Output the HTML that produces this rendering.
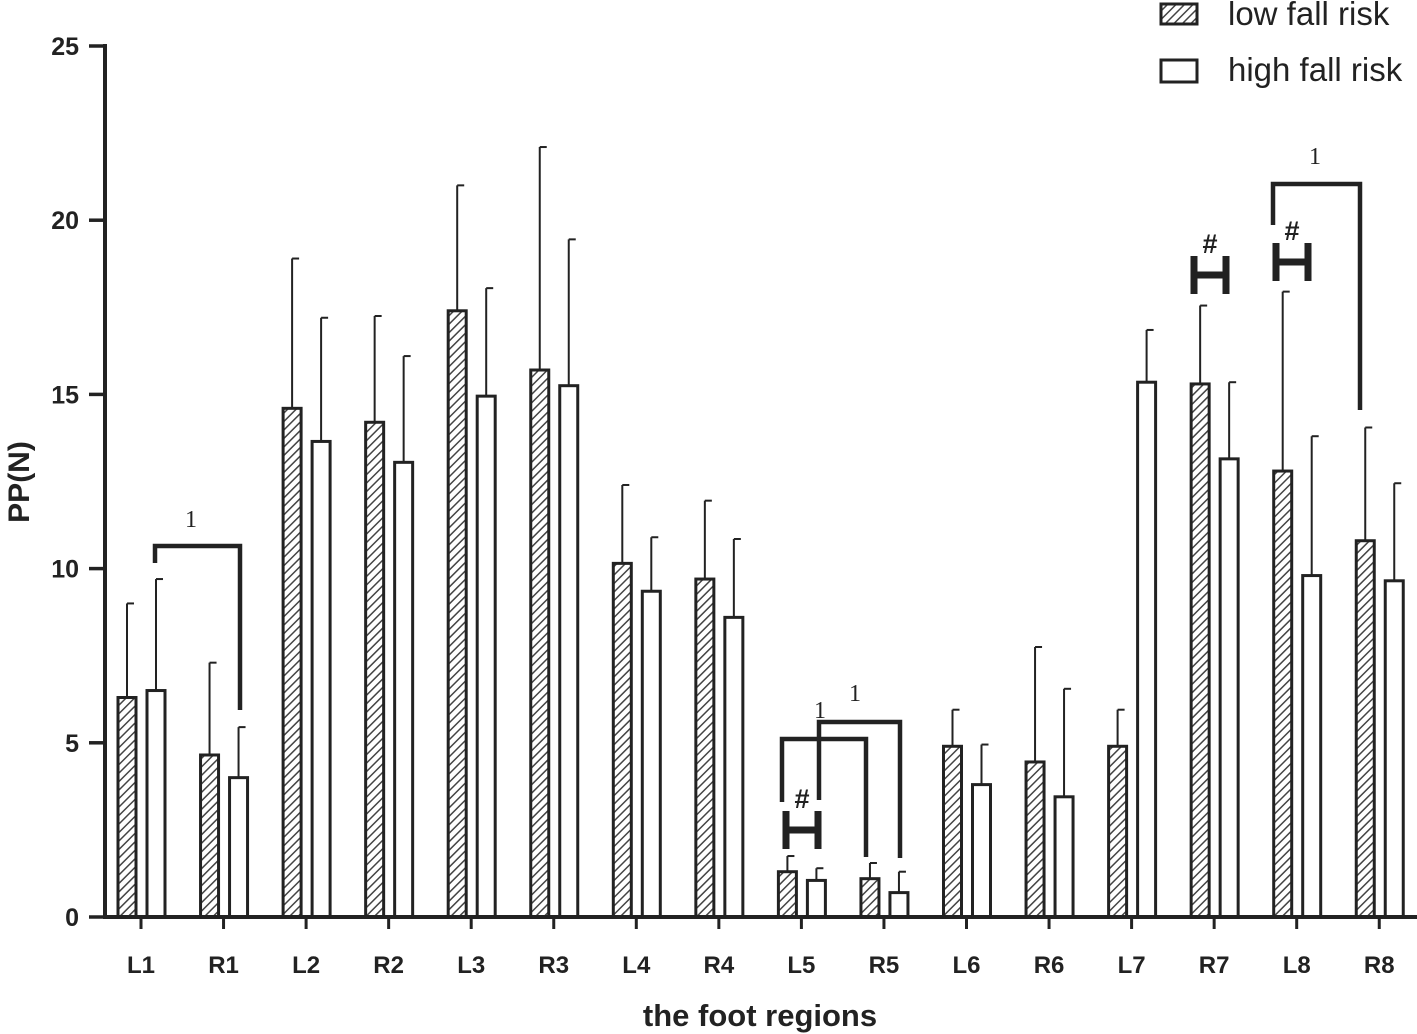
<!DOCTYPE html>
<html><head><meta charset="utf-8"><style>
html,body{margin:0;padding:0;background:#fff;}
svg{display:block;font-family:"Liberation Sans",Arial,sans-serif;}
</style></head><body>
<svg id="chart" width="1417" height="1034" viewBox="0 0 1417 1034" xmlns="http://www.w3.org/2000/svg">
<defs>
<pattern id="hatch" patternUnits="userSpaceOnUse" width="6" height="6" patternTransform="rotate(45)">
<rect width="6" height="6" fill="#fff"/><line x1="0" y1="0" x2="0" y2="6" stroke="#444" stroke-width="3"/>
</pattern>
</defs>
<g id="legend">
<g>
<rect x="1161" y="4" width="36" height="20" fill="url(#hatch)" stroke="#222" stroke-width="3"/>
<text x="1228" y="25" font-size="33" fill="#222">low fall risk</text></g>
<g>
<rect x="1161" y="60" width="36" height="22" fill="#fff" stroke="#222" stroke-width="3"/>
<text x="1228" y="81" font-size="33" fill="#222">high fall risk</text></g>
</g>
<g id="marks"></g>
<g id="axes"></g>
<text x="29" y="482" font-size="30" font-weight="bold" fill="#222" text-anchor="middle" transform="rotate(-90 29 482)">PP(N)</text>
<text x="760" y="1026" font-size="31" font-weight="bold" fill="#222" text-anchor="middle">the foot regions</text>
</svg>
<script>
const categories=["L1","R1","L2","R2","L3","R3","L4","R4","L5","R5","L6","R6","L7","R7","L8","R8"];
const lowValues=[6.3,4.65,14.6,14.2,17.4,15.7,10.15,9.7,1.3,1.1,4.9,4.45,4.9,15.3,12.8,10.8];
const lowErr=[9.0,7.3,18.9,17.25,21.0,22.1,12.4,11.95,1.75,1.55,5.95,7.75,5.95,17.55,17.95,14.05];
const highValues=[6.5,4.0,13.65,13.05,14.95,15.25,9.35,8.6,1.05,0.7,3.8,3.45,15.35,13.15,9.8,9.65];
const highErr=[9.7,5.45,17.2,16.1,18.05,19.45,10.9,10.85,1.4,1.3,4.95,6.55,16.85,15.35,13.8,12.45];
const yTicks=[0,5,10,15,20,25];
const NS="http://www.w3.org/2000/svg";
const y0=917,yTop=46,yMax=25;
function yScale(v){return y0-(v/yMax)*(y0-yTop);}
function xScale(i){return 141+i*82.55;}
function mk(tag,attrs,parent){const e=document.createElementNS(NS,tag);for(const k in attrs)e.setAttribute(k,attrs[k]);parent.appendChild(e);return e;}
const marks=document.getElementById('marks'),axes=document.getElementById('axes');
const bw=18;
categories.forEach((c,i)=>{
  const cx=xScale(i);
  [[lowValues[i],lowErr[i],cx-14,'url(#hatch)','low'],[highValues[i],highErr[i],cx+15,'#fff','high']].forEach(([v,e,bx,fill,nm])=>{
    const el=mk('line',{x1:bx,x2:bx,y1:yScale(v),y2:yScale(e),stroke:'#222','stroke-width':2},marks);
    
    
    const cap=mk('line',{x1:bx,x2:bx+7,y1:yScale(e),y2:yScale(e),stroke:'#222','stroke-width':2},marks);
    
    
    const r=mk('rect',{x:bx-bw/2,y:yScale(v),width:bw,height:y0-yScale(v),fill:fill,stroke:'#222','stroke-width':3},marks);
    
    
  });
  const t=mk('line',{x1:cx,x2:cx,y1:y0,y2:y0+12,stroke:'#222','stroke-width':3},axes);
  
  
  const lb=mk('text',{x:cx,y:973,'font-size':24,'font-weight':'bold','text-anchor':'middle',fill:'#222'},axes);
  lb.textContent=c;
  
  
});
const ya=mk('line',{x1:105,x2:105,y1:yTop-2,y2:y0+2,stroke:'#222','stroke-width':4},axes);


const xa=mk('line',{x1:103,x2:1417,y1:y0,y2:y0,stroke:'#222','stroke-width':4},axes);


yTicks.forEach(v=>{
  const t=mk('line',{x1:89,x2:105,y1:yScale(v),y2:yScale(v),stroke:'#222','stroke-width':3.5},axes);
  
  
  const l=mk('text',{x:79,y:yScale(v)+9,'font-size':25,'font-weight':'bold','text-anchor':'end',fill:'#222'},axes);
  l.textContent=v;
  
  
});
function bracket(x1,x2,top,b1,b2,lx,ly){
  const p=mk('path',{d:`M${x1},${b1} V${top} H${x2} V${b2}`,fill:'none',stroke:'#222','stroke-width':4.5},marks);
  
  
  const t=mk('text',{x:lx,y:ly,'font-size':24,'font-family':'Liberation Serif, serif','text-anchor':'middle',fill:'#222'},marks);
  t.textContent='1';
  
  
}
bracket(155,240,546,563,710,191,527);
bracket(782,866,739,802,857,820,718);
bracket(819,900,722,800,858,855,701);
bracket(1273,1360,184,225,410,1315,164);
function hmark(x,y){
  const p=mk('path',{d:`M${x-16},${y-19} V${y+19} M${x+16},${y-19} V${y+19} M${x-16},${y} H${x+16}`,fill:'none',stroke:'#222','stroke-width':7},marks);
  
  
  const t=mk('text',{x:x,y:y-22,'font-size':27,'font-weight':'bold','text-anchor':'middle',fill:'#222'},marks);
  t.textContent='#';
  
  
}
hmark(802,830);hmark(1210,275);hmark(1292,262);
</script>
</body></html>
